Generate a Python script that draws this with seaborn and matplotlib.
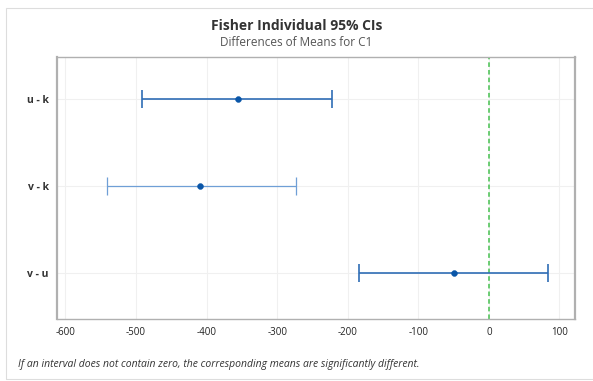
import seaborn as sns
import matplotlib.pyplot as plt
import matplotlib.patches as mpatches
import pandas as pd

comparisons = ['u - k', 'v - k', 'v - u']
centers = [-356, -409, -50]
lowers = [-492, -541, -184]
uppers = [-222, -274, 84]
xticks = [-600, -500, -400, -300, -200, -100, 0, 100]

df = pd.DataFrame({'pair': comparisons, 'center': centers,
                   'lower': lowers, 'upper': uppers})

sns.set_style('white')
plt.rcParams['font.family'] = ['Open Sans', 'DejaVu Sans']

fig = plt.figure(figsize=(5.93, 3.81), dpi=100)
ax = fig.add_axes([57 / 593, 1 - 319 / 381, (575 - 57) / 593, (319 - 57) / 381])

line_cols = ['#2f6db5', '#6f9fd6', '#2f6db5']
ypos = range(len(df))
for i, row in df.iterrows():
    ax.errorbar(row['center'], i,
                xerr=[[row['center'] - row['lower']], [row['upper'] - row['center']]],
                fmt='none', ecolor=line_cols[i], elinewidth=1.2 if i != 1 else 0.9,
                capsize=6.5, capthick=1.2 if i != 1 else 0.9, zorder=3)
sns.scatterplot(x=df['center'], y=list(ypos), ax=ax, color='#0a56a8', s=18,
                edgecolor='#0a56a8', zorder=4)

ax.axvline(0, color='#45c04f', lw=1.1, ls=(0, (3, 2)), zorder=2)

ax.set_xlim(-612, 122)
ax.set_ylim(2.53, -0.48)
ax.set_xticks(xticks)
ax.set_xticklabels([str(t) for t in xticks], fontsize=7, color='#222222')
ax.set_yticks(list(ypos))
ax.set_yticklabels(comparisons, fontsize=7.5, fontweight='bold', color='#333333')
ax.tick_params(axis='both', length=3, width=0.6, color='#999999', pad=3)
ax.grid(True, color='#f0f0f0', lw=0.8, zorder=0)
ax.set_xlabel('')
ax.set_ylabel('')
for side in ['top', 'right', 'bottom', 'left']:
    ax.spines[side].set_color('#b0b0b0')
    ax.spines[side].set_linewidth(1.0)
ax.spines['left'].set_linewidth(1.6)
ax.spines['right'].set_linewidth(1.6)

fig.text(0.5, 1 - 26 / 381, 'Fisher Individual 95% CIs', ha='center', va='center',
         fontsize=10, fontweight='bold', color='#333333')
fig.text(0.5, 1 - 43 / 381, 'Differences of Means for C1', ha='center', va='center',
         fontsize=8.5, color='#555555')
fig.text(18 / 593, 1 - 365 / 381,
         'If an interval does not contain zero, the corresponding means are significantly different.',
         ha='left', va='center', fontsize=7.5, style='italic', color='#333333')

fig.patches.append(mpatches.Rectangle((6 / 593, 2 / 381), 1.0, 1 - 10 / 381,
                                      transform=fig.transFigure, fill=False,
                                      edgecolor='#dddddd', lw=0.8))

fig.savefig('out.png', dpi=100)
